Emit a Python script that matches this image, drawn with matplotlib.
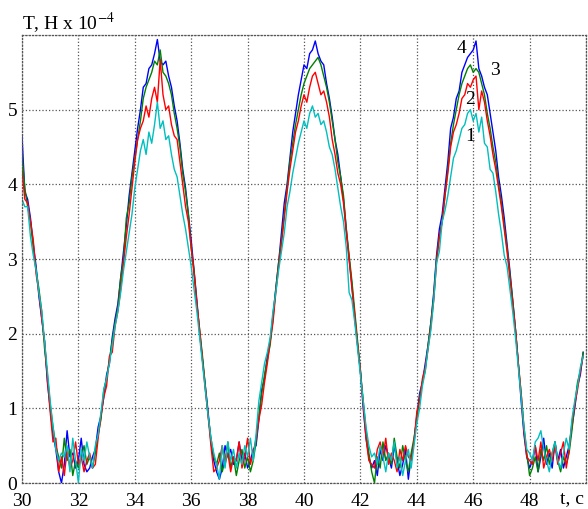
import numpy as np
import matplotlib

matplotlib.use("Agg")
import matplotlib.pyplot as plt

plt.rcParams["font.family"] = ["Liberation Serif", "DejaVu Serif"]
plt.rcParams["mathtext.fontset"] = "stix"

# время, шаг 0.1 c
t = np.round(np.arange(30.0, 49.95, 0.1), 1)

# кривая 4 (синяя)
s4 = [4.65, 3.9, 3.8, 3.55, 3.2, 2.9, 2.5, 2.2, 1.9, 1.35, 1.0, 0.65, 0.45, 0.15,
      0.0, 0.25, 0.7, 0.35, 0.4, 0.2, 0.3, 0.6, 0.25, 0.15, 0.2, 0.35, 0.45,
      0.75, 0.9, 1.15, 1.45, 1.6, 1.95, 2.2, 2.4, 2.75, 3.1, 3.45, 3.85, 4.15, 4.45, 4.75, 5.0, 5.3, 5.35, 5.55, 5.6, 5.75,
      5.94, 5.65, 5.6, 5.65, 5.45, 5.3, 5.05, 4.85, 4.55, 4.2, 3.95, 3.6, 3.25, 2.85, 2.45, 2.0, 1.65, 1.3, 0.95, 0.55, 0.3, 0.15,
      0.05, 0.2, 0.5, 0.35, 0.45, 0.25, 0.3, 0.55, 0.3, 0.4, 0.2, 0.3, 0.45,
      0.5, 0.85, 1.25, 1.4, 1.7, 1.9, 2.25, 2.6, 2.95, 3.35, 3.75, 4.0, 4.35, 4.7, 4.95, 5.2, 5.4, 5.6, 5.55, 5.75, 5.8, 5.92,
      5.75, 5.65, 5.6, 5.35, 5.15, 4.9, 4.6, 4.4, 4.1, 3.8, 3.4, 3.0, 2.65, 2.2, 1.85, 1.5, 1.0, 0.6, 0.35, 0.2,
      0.3, 0.1, 0.45, 0.3, 0.5, 0.35, 0.2, 0.5, 0.3, 0.1, 0.25, 0.45, 0.05, 0.35, 0.55,
      0.9, 1.2, 1.35, 1.6, 1.85, 2.15, 2.55, 3.05, 3.4, 3.6, 3.95, 4.3, 4.75, 4.9, 5.15, 5.25, 5.5, 5.6, 5.7, 5.75, 5.8, 5.92,
      5.55, 5.45, 5.3, 5.2, 4.95, 4.7, 4.45, 4.1, 3.85, 3.55, 3.2, 2.85, 2.45, 2.05, 1.6, 1.1, 0.65, 0.35, 0.2,
      0.3, 0.5, 0.15, 0.35, 0.6, 0.25, 0.4, 0.2, 0.55, 0.3, 0.45, 0.2, 0.35, 0.5,
      0.75, 1.0, 1.3, 1.45, 1.75]

# кривая 3 (зелёная)
s3 = [4.4, 3.95, 3.7, 3.5, 3.15, 2.85, 2.6, 2.3, 1.8, 1.45, 1.05, 0.75, 0.5, 0.35,
      0.2, 0.6, 0.3, 0.45, 0.1, 0.3, 0.2, 0.35, 0.5, 0.25, 0.35, 0.2, 0.4,
      0.65, 0.85, 1.25, 1.4, 1.65, 1.9, 2.15, 2.35, 2.75, 3.0, 3.55, 3.75, 4.1, 4.35, 4.6, 4.85, 5.15, 5.3, 5.4, 5.5, 5.65,
      5.6, 5.8, 5.5, 5.45, 5.35, 5.2, 4.95, 4.75, 4.5, 4.15, 3.9, 3.6, 3.15, 2.85, 2.4, 2.05, 1.7, 1.3, 0.9, 0.6, 0.35, 0.25,
      0.4, 0.15, 0.3, 0.55, 0.2, 0.35, 0.1, 0.3, 0.45, 0.2, 0.35, 0.15, 0.3,
      0.55, 0.9, 1.2, 1.45, 1.65, 1.85, 2.2, 2.6, 2.95, 3.25, 3.6, 3.95, 4.3, 4.55, 4.8, 5.0, 5.2, 5.35, 5.45, 5.55, 5.6, 5.65,
      5.7, 5.6, 5.45, 5.3, 5.1, 4.85, 4.6, 4.3, 4.1, 3.85, 3.4, 3.05, 2.7, 2.3, 1.9, 1.5, 1.1, 0.7, 0.4, 0.15,
      0.0, 0.35, 0.2, 0.55, 0.3, 0.4, 0.25, 0.6, 0.35, 0.2, 0.5, 0.3, 0.15, 0.4, 0.6,
      0.85, 1.15, 1.35, 1.5, 1.85, 2.15, 2.5, 3.0, 3.3, 3.5, 3.85, 4.2, 4.55, 4.8, 5.0, 5.2, 5.35, 5.45, 5.55, 5.6, 5.5, 5.55,
      5.5, 5.35, 5.2, 4.95, 4.75, 4.5, 4.3, 4.0, 3.75, 3.45, 3.15, 2.8, 2.45, 2.05, 1.6, 1.2, 0.75, 0.4, 0.1,
      0.2, 0.35, 0.15, 0.45, 0.3, 0.5, 0.25, 0.4, 0.55, 0.3, 0.15, 0.35, 0.25, 0.4,
      0.7, 1.05, 1.35, 1.5, 1.75]

# кривая 2 (красная)
s2 = [4.2, 3.8, 3.75, 3.5, 3.25, 2.8, 2.55, 2.2, 1.9, 1.4, 0.95, 0.55, 0.6, 0.15,
      0.35, 0.1, 0.45, 0.2, 0.3, 0.55, 0.25, 0.35, 0.15, 0.3, 0.4, 0.2, 0.25,
      0.6, 0.9, 1.15, 1.3, 1.7, 1.75, 2.1, 2.3, 2.6, 2.95, 3.3, 3.6, 3.95, 4.3, 4.6, 4.75, 4.85, 5.05, 4.9, 5.15, 5.3,
      5.1, 5.67, 5.2, 5.0, 5.05, 4.8, 4.65, 4.6, 4.3, 4.0, 3.7, 3.5, 3.15, 2.8, 2.4, 2.05, 1.65, 1.25, 0.9, 0.5, 0.15, 0.2,
      0.3, 0.5, 0.25, 0.4, 0.15, 0.35, 0.3, 0.55, 0.2, 0.35, 0.6, 0.25, 0.4,
      0.6, 0.85, 1.05, 1.35, 1.6, 1.9, 2.15, 2.55, 2.9, 3.2, 3.55, 3.9, 4.2, 4.45, 4.7, 4.85, 5.05, 5.2, 5.1, 5.3, 5.45, 5.5,
      5.35, 5.2, 5.25, 5.1, 4.9, 4.6, 4.4, 4.15, 4.0, 3.75, 3.35, 3.0, 2.6, 2.25, 1.85, 1.5, 1.05, 0.6, 0.3, 0.25,
      0.2, 0.45, 0.55, 0.35, 0.6, 0.25, 0.4, 0.3, 0.15, 0.45, 0.3, 0.5, 0.35, 0.3, 0.55,
      0.95, 1.1, 1.4, 1.55, 1.8, 2.1, 2.45, 2.95, 3.3, 3.5, 3.85, 4.15, 4.5, 4.7, 4.8, 4.95, 5.15, 5.2, 5.35, 5.3, 5.4, 5.45,
      5.0, 5.25, 5.1, 4.85, 4.65, 4.4, 4.2, 3.95, 3.7, 3.4, 3.1, 2.75, 2.4, 2.05, 1.6, 1.2, 0.7, 0.35, 0.3,
      0.25, 0.5, 0.3, 0.55, 0.2, 0.35, 0.45, 0.3, 0.5, 0.25, 0.4, 0.55, 0.2, 0.45,
      0.8, 1.05, 1.25, 1.5, 1.7]

# кривая 1 (бирюзовая)
s1 = [3.8, 3.7, 3.7, 3.3, 3.05, 2.85, 2.55, 2.3, 1.9, 1.5, 1.1, 0.75, 0.45, 0.3,
      0.4, 0.35, 0.5, 0.15, 0.6, 0.3, 0.0, 0.45, 0.3, 0.55, 0.35, 0.2, 0.5,
      0.65, 0.95, 1.25, 1.4, 1.6, 1.85, 2.1, 2.3, 2.55, 2.85, 3.1, 3.35, 3.6, 3.95, 4.2, 4.45, 4.6, 4.4, 4.7, 4.55, 4.8,
      5.1, 4.75, 4.85, 4.6, 4.65, 4.4, 4.2, 4.1, 3.85, 3.6, 3.4, 3.15, 2.9, 2.6, 2.3, 1.95, 1.6, 1.25, 0.9, 0.6, 0.4, 0.25,
      0.05, 0.5, 0.2, 0.55, 0.3, 0.45, 0.2, 0.4, 0.25, 0.5, 0.35, 0.6, 0.3,
      0.65, 1.1, 1.35, 1.6, 1.75, 1.95, 2.3, 2.55, 2.85, 3.1, 3.35, 3.7, 3.9, 4.15, 4.35, 4.55, 4.7, 4.85, 4.75, 4.95, 5.05, 4.9,
      4.95, 4.8, 4.85, 4.7, 4.5, 4.4, 4.2, 3.95, 3.7, 3.5, 3.15, 2.55, 2.45, 2.15, 1.8, 1.45, 1.1, 0.75, 0.5, 0.35,
      0.4, 0.25, 0.5, 0.35, 0.15, 0.4, 0.3, 0.55, 0.2, 0.35, 0.1, 0.3, 0.45, 0.2, 0.5,
      0.8, 1.0, 1.3, 1.5, 1.8, 2.05, 2.45, 2.95, 3.1, 3.5, 3.65, 3.85, 4.1, 4.35, 4.45, 4.6, 4.75, 4.8, 4.95, 5.0, 4.85, 4.95,
      4.7, 4.9, 4.55, 4.5, 4.2, 4.15, 3.9, 3.6, 3.35, 3.05, 2.9, 2.6, 2.3, 1.95, 1.55, 1.15, 0.75, 0.45, 0.4,
      0.3, 0.55, 0.6, 0.7, 0.45, 0.3, 0.15, 0.4, 0.55, 0.3, 0.2, 0.4, 0.6, 0.45,
      0.85, 1.1, 1.3, 1.55, 1.7]

series = [(s4, "#0000ff"), (s3, "#008000"), (s2, "#ff0000"), (s1, "#00bfbf")]

# подписи кривых: (номер, t, T)
labels = [("4", 45.6, 5.82), ("3", 46.77, 5.52), ("2", 45.88, 5.13), ("1", 45.88, 4.64)]

xticks = [30, 32, 34, 36, 38, 40, 42, 44, 46, 48, 50]
xticklabels = ["30", "32", "34", "36", "38", "40", "42", "44", "46", "48", ""]
yticks = [0, 1, 2, 3, 4, 5, 6]
yticklabels = ["0", "1", "2", "3", "4", "5", ""]

fig = plt.figure(figsize=(5.88, 5.09), dpi=100)
ax = fig.add_axes([22 / 588, 1 - 483 / 509, 564 / 588, 448 / 509])

for s, c in series:
    ax.plot(t, s, color=c, linewidth=1.0)

for txt, x, y in labels:
    ax.text(x, y, txt, fontsize=14, ha="center", va="center")

ax.set_xlim(30, 50)
ax.set_ylim(0, 6)
ax.set_xticks(xticks)
ax.set_xticklabels(xticklabels)
ax.set_yticks(yticks)
ax.set_yticklabels(yticklabels)
ax.tick_params(axis="x", length=0, labelsize=14, pad=7.2)
ax.tick_params(axis="y", length=0, labelsize=14, pad=3.5)
ax.grid(True, linestyle=":", color="#555555", linewidth=0.9)
for sp in ax.spines.values():
    sp.set_linestyle(":")
    sp.set_color("#555555")
    sp.set_linewidth(0.9)

fig.text(22 / 588, 1 - 29 / 509, r"T, H x 10$^{-4}$", fontsize=14, va="baseline")
fig.text(572 / 588, 1 - 503 / 509, "t, c", fontsize=14, ha="center", va="baseline")

fig.savefig("out.png", dpi=100)
plt.close(fig)
